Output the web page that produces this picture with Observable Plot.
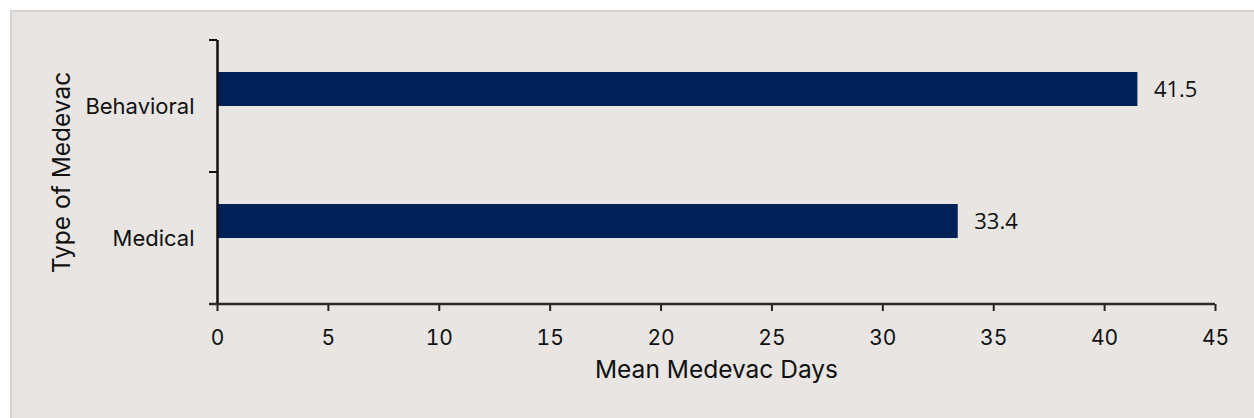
<!DOCTYPE html>
<html><head><meta charset="utf-8">
<script src="https://cdn.jsdelivr.net/npm/d3@7"></script>
<script src="https://cdn.jsdelivr.net/npm/@observablehq/plot@0.6"></script>
<style>
html,body{margin:0;padding:0;background:#fff;width:1254px;height:418px;overflow:hidden}
#panel{position:absolute;left:10px;top:10px;width:1244px;height:408px;box-sizing:border-box;background:#e8e5e2;border-top:2px solid #d7d5d3;border-left:2px solid #d7d5d3}
#chart{position:absolute;left:0;top:0}
</style></head><body><div id="panel"></div><div id="chart"></div>
<script>
const categories = ["Behavioral", "Medical"];
const meanDays = [41.5, 33.4];
const xTicks = [0, 5, 10, 15, 20, 25, 30, 35, 40, 45];
const xDomain = [0, 45];
const xLabel = "Mean Medevac Days";
const yLabel = "Type of Medevac";

const data = categories.map((c, i) => ({type: c, days: meanDays[i]}));
const FONT = "Inter, 'Open Sans', sans-serif";

const chart = Plot.plot({
  width: 1254, height: 418,
  marginLeft: 217, marginRight: 39, marginTop: 40, marginBottom: 114,
  style: {background: "transparent", fontFamily: FONT, color: "#111", overflow: "visible"},
  x: {domain: xDomain},
  y: {domain: categories, padding: 0},
  marks: [
    Plot.barX(data, {x: "days", y: "type", fill: "#002157", insetTop: 32, insetBottom: 66}),
    Plot.text(data, {x: "days", y: "type", text: d => d.days.toFixed(1), textAnchor: "start",
      dx: 16, dy: -17, fontSize: 22, fontFamily: "'Open Sans', sans-serif", fill: "#111"}),
    Plot.axisX({ticks: xTicks, tickSize: 7, tickPadding: 19, fontSize: 21, strokeWidth: 2, stroke: "#222", label: null}),
    Plot.axisY({tickSize: 0, tickPadding: 23, fontSize: 22, label: null}),
    Plot.ruleX([0], {stroke: "#111", strokeWidth: 2.5}),
    Plot.text([xLabel], {frameAnchor: "bottom", dy: 73, fontSize: 24.5, fill: "#111"}),
    Plot.text([yLabel], {frameAnchor: "left", textAnchor: "middle", rotate: -90, dx: -155, fontSize: 24.5, fill: "#111"})
  ]
});

document.getElementById("chart").append(chart);

// band-boundary ticks on the y axis and the bottom axis line, from the chart's scales
const ys = chart.scale("y");
const xs = chart.scale("x");
const svg = d3.select(chart);
const x0 = xs.apply(xDomain[0]);
const x1 = xs.apply(xDomain[1]);
const yBottom = ys.range[1];
svg.append("line").attr("x1", x0 - 8).attr("x2", x1).attr("y1", yBottom).attr("y2", yBottom)
  .attr("stroke", "#2a2a2a").attr("stroke-width", 2.5);
const edges = d3.range(categories.length).map(i => ys.apply(categories[i]));
svg.append("g").selectAll("line").data(edges).join("line")
  .attr("x1", x0 - 8).attr("x2", x0).attr("y1", d => d).attr("y2", d => d)
  .attr("stroke", "#111").attr("stroke-width", 2);
</script>
</body></html>
